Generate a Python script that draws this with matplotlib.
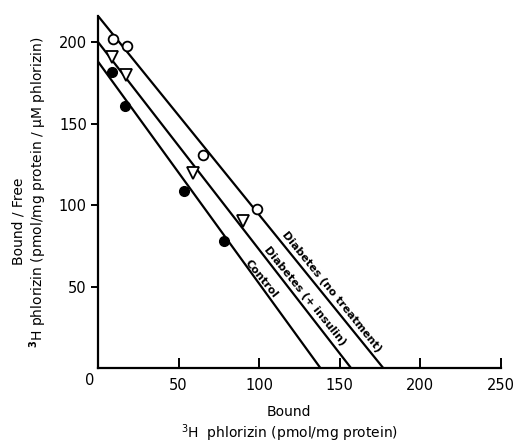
import numpy as np
import matplotlib
matplotlib.use("Agg")
import matplotlib.pyplot as plt

plt.rcParams['font.family'] = ['DejaVu Sans']

# Scatchard plot data
notreat_x = [9.3, 18, 65, 98.5]
notreat_y = [202, 197.5, 131, 97.5]
insulin_x = [8.7, 17.4, 59, 90]
insulin_y = [191, 180, 119.5, 90.5]
control_x = [8.7, 16.8, 53.4, 78]
control_y = [181.5, 160.7, 108.6, 78]

# fitted lines: (y intercept, x intercept)
lines = {
    'notreat': (216, 177),
    'insulin': (200, 157),
    'control': (188, 138),
}

fig = plt.figure(figsize=(5.2, 4.43), dpi=100)
ax = fig.add_axes([0.1885, 0.169, 0.775, 0.795])

lw = 1.6
for key, (b, xi) in lines.items():
    ax.plot([0, xi], [b, 0], color='black', lw=lw, solid_capstyle='butt')

ax.plot(notreat_x, notreat_y, 'o', ms=7, mfc='white', mec='black', mew=1.3)
ax.plot(insulin_x, insulin_y, 'v', ms=8, mfc='white', mec='black', mew=1.3)
ax.plot(control_x, control_y, 'o', ms=7, mfc='black', mec='black')

ax.set_xlim(0, 250)
ax.set_ylim(0, 216)
ax.spines['top'].set_visible(False)
ax.spines['right'].set_visible(False)
ax.spines['left'].set_linewidth(1.6)
ax.spines['bottom'].set_linewidth(1.6)

ax.set_xticks([50, 100, 150, 200, 250])
ax.set_yticks([50, 100, 150, 200])
ax.tick_params(axis='x', direction='in', length=7, width=1.4, labelsize=10.5, pad=7)
ax.tick_params(axis='y', direction='out', length=5, width=1.4, labelsize=10.5, pad=3)
ax.text(-0.02, -0.035, '0', transform=ax.transAxes, ha='center', va='center', fontsize=10.5)

# line labels, rotated along the lines
p0 = ax.transData.transform((0, 216))
p1 = ax.transData.transform((177, 0))
ang = np.degrees(np.arctan2(p1[1] - p0[1], p1[0] - p0[0]))
ax.text(144.7, 47, 'Diabetes (no treatment)', rotation=ang, ha='center', va='center',
        rotation_mode='anchor', fontsize=8, fontweight='bold')
ax.text(128.6, 44, 'Diabetes (+ insulin)', rotation=ang, ha='center', va='center',
        rotation_mode='anchor', fontsize=8, fontweight='bold')
ax.text(101, 55, 'Control', rotation=ang, ha='center', va='center',
        rotation_mode='anchor', fontsize=8, fontweight='bold')

fig.text(0.035, 0.5, 'Bound / Free', rotation=90, ha='center', va='center', fontsize=10)
fig.text(0.073, 0.567, r'$^{\mathbf{3}}$H phlorizin (pmol/mg protein / μM phlorizin)',
         rotation=90, ha='center', va='center', fontsize=10)
fig.text(0.556, 0.07, 'Bound', ha='center', va='center', fontsize=10)
fig.text(0.556, 0.022, r'$^{3}$H  phlorizin (pmol/mg protein)', ha='center', va='center', fontsize=10)

fig.savefig('out.png', dpi=100)
